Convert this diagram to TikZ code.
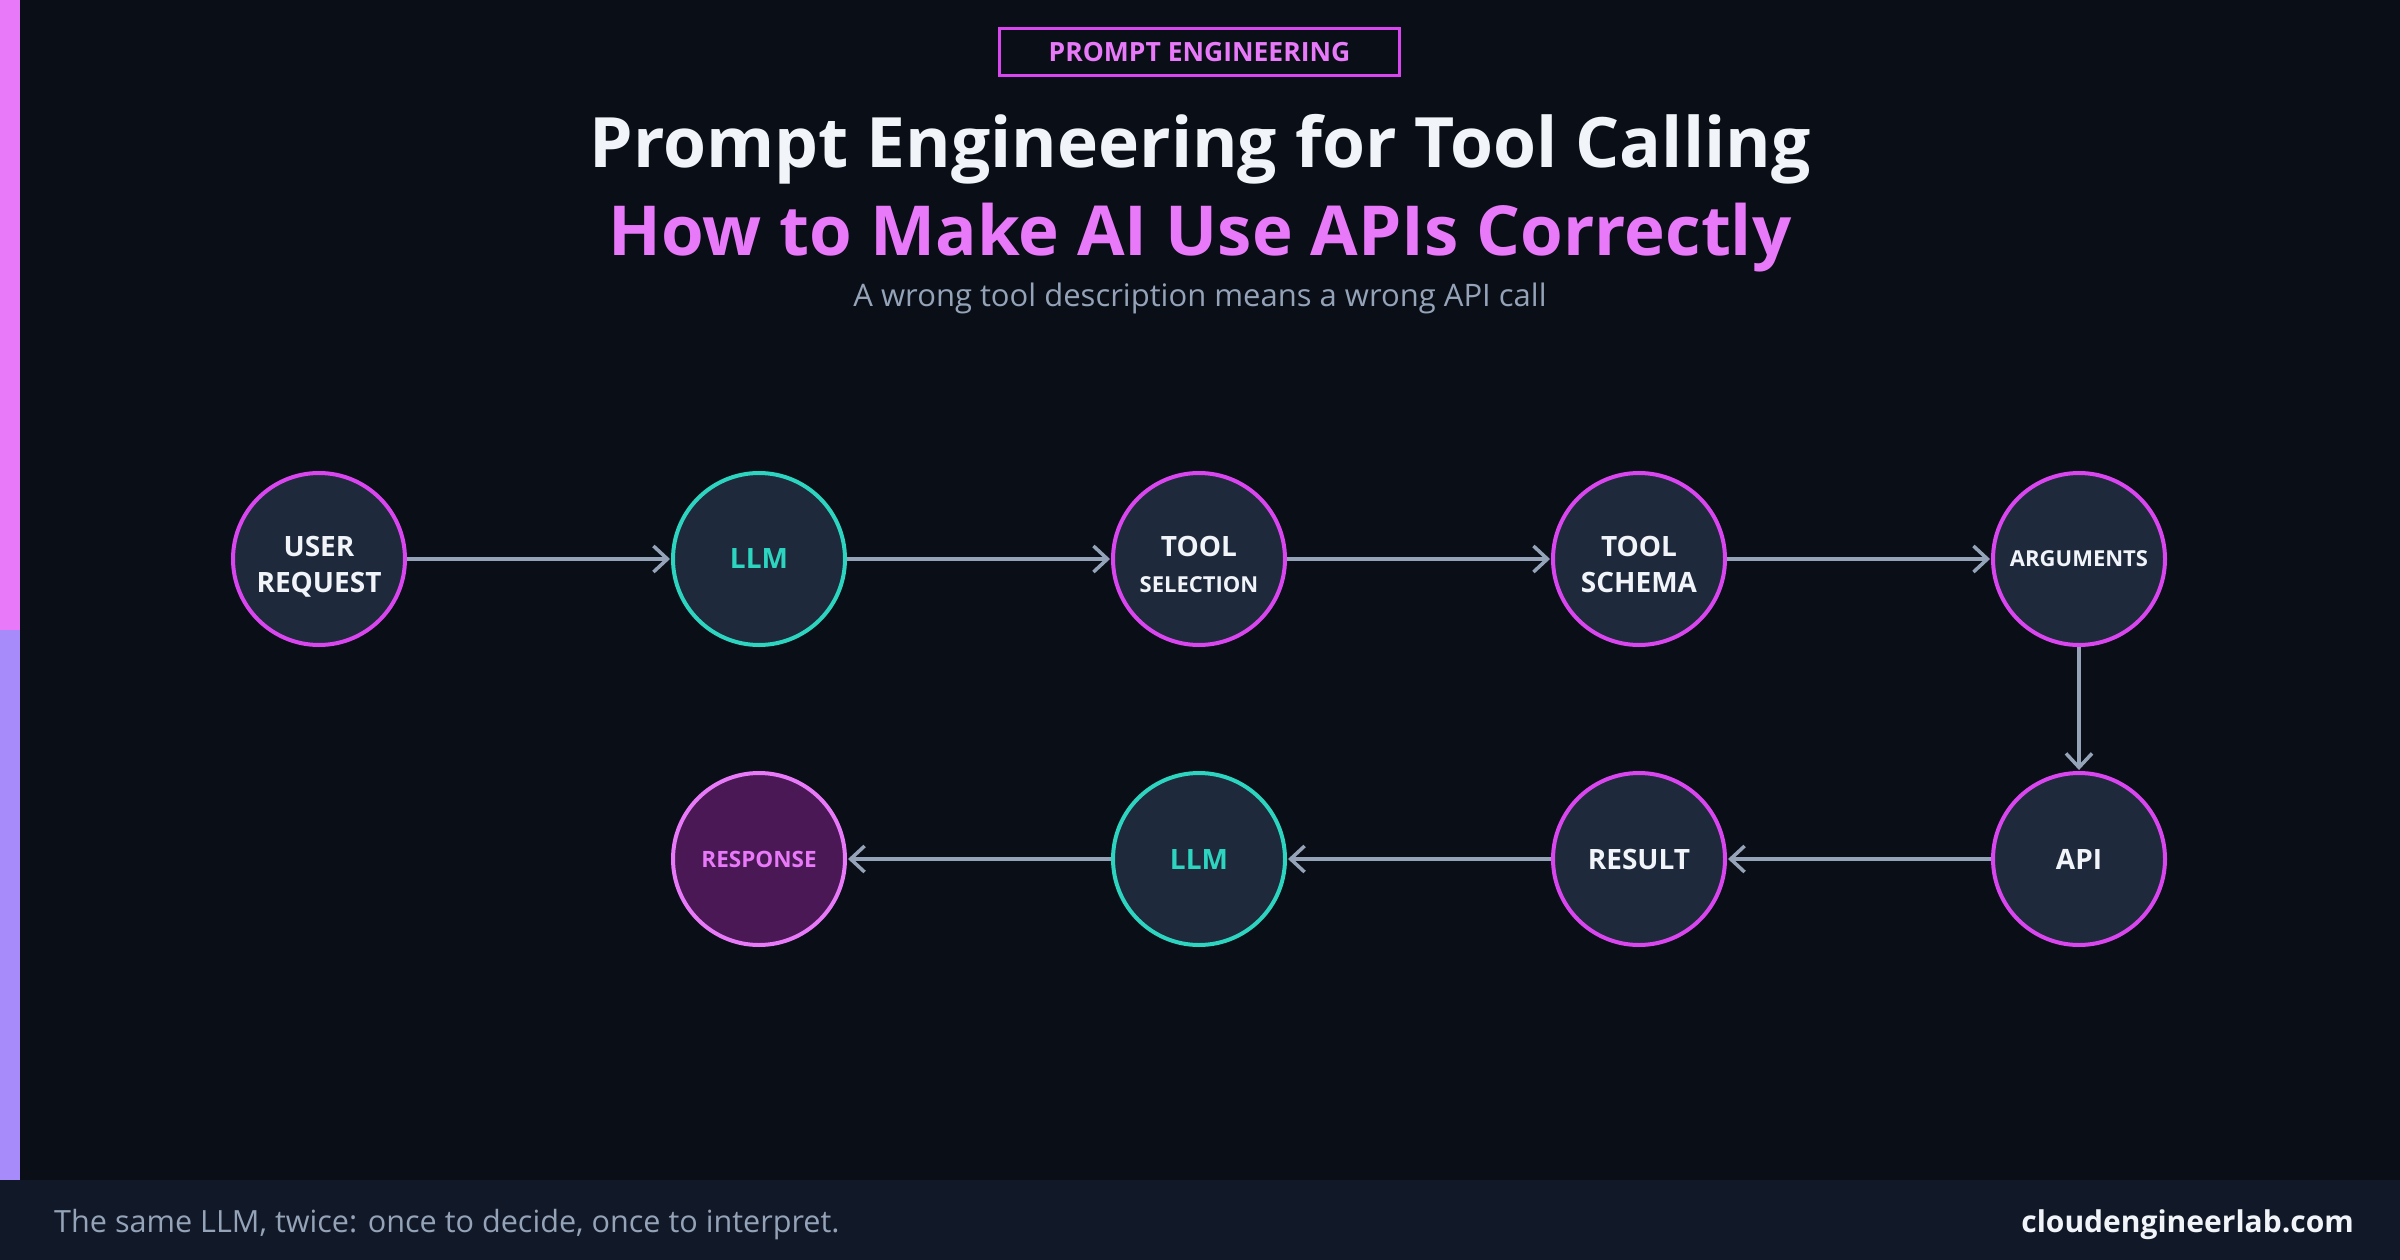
\documentclass[tikz,border=0pt]{standalone}
\usepackage{fontspec}
\setmainfont{Open Sans}
\usetikzlibrary{arrows.meta}
\definecolor{bg}{HTML}{0A0E17}
\definecolor{footbg}{HTML}{111827}
\definecolor{pinkA}{HTML}{E879F9}
\definecolor{magenta}{HTML}{D946EF}
\definecolor{violetA}{HTML}{A78BFA}
\definecolor{tealA}{HTML}{2DD4BF}
\definecolor{nodefill}{HTML}{1E293B}
\definecolor{respfill}{HTML}{4A1855}
\definecolor{slateA}{HTML}{94A3B8}
\definecolor{whiteA}{HTML}{F1F5F9}
\newcommand{\twolines}[2]{\raisebox{-8pt}[\height][\depth]{\begin{tabular}{@{}c@{}}#1\\#2\end{tabular}}}
\tikzset{
  stage/.style={circle, minimum size=172pt, inner sep=0pt, line width=4pt, draw=magenta, fill=nodefill, text=whiteA, align=center, font=\bfseries\fontsize{28}{36}\selectfont},
  llmnode/.style={stage, draw=tealA, text=tealA},
  respnode/.style={stage, draw=pinkA, fill=respfill, text=pinkA, font=\bfseries\fontsize{22.5}{28}\selectfont},
  small/.style={font=\bfseries\fontsize{22}{28}\selectfont},
  flow/.style={draw=slateA, line width=3.5pt, -{Straight Barb[length=14pt,width=26pt,line width=3.5pt]}, shorten >=1pt},
}
\begin{document}
\begin{tikzpicture}[x=1pt,y=-1pt]
\fill[bg] (0,0) rectangle (2400,1260);
\useasboundingbox (0,0) rectangle (2400,1260);
% left accent bar
\fill[pinkA] (0,0) rectangle (20,630);
\fill[violetA] (0,630) rectangle (20,1180);
% footer
\fill[footbg] (0,1180) rectangle (2400,1260);
% badge
\node[draw=magenta, line width=3pt, minimum width=400pt, minimum height=47pt, inner sep=0pt, text=pinkA, font=\bfseries\fontsize{26.5}{30}\selectfont] (badge) at (1199.5,52) {PROMPT ENGINEERING};
% titles
\node[anchor=base, text=whiteA, font=\bfseries\fontsize{69.5}{74}\selectfont] (title) at (1200,168) {Prompt Engineering for Tool Calling};
\node[anchor=base, text=pinkA, font=\bfseries\fontsize{69}{74}\selectfont] (subtitle) at (1200,255) {How to Make AI Use APIs Correctly};
\node[anchor=base, text=slateA, font=\fontsize{31}{36}\selectfont] (tagline) at (1200,306) {A wrong tool description means a wrong API call};
% nodes
\node[stage] (user) at (319,559) {\twolines{USER}{REQUEST}};
\node[llmnode] (llm1) at (759,559) {LLM};
\node[stage] (toolsel) at (1199,559) {\twolines{TOOL}{\fontsize{22}{28}\selectfont SELECTION}};
\node[stage] (schema) at (1639,559) {\twolines{TOOL}{SCHEMA}};
\node[stage, small] (args) at (2079,559) {ARGUMENTS};
\node[stage] (api) at (2079,859) {API};
\node[stage] (result) at (1639,859) {RESULT};
\node[llmnode] (llm2) at (1199,859) {LLM};
\node[respnode] (resp) at (759,859) {RESPONSE};
% connectors
\draw[flow] (user) -- (llm1);
\draw[flow] (llm1) -- (toolsel);
\draw[flow] (toolsel) -- (schema);
\draw[flow] (schema) -- (args);
\draw[flow] (args) -- (api);
\draw[flow] (api) -- (result);
\draw[flow] (result) -- (llm2);
\draw[flow] (llm2) -- (resp);
% footer texts
\node[anchor=base west, text=slateA, font=\fontsize{30.6}{34}\selectfont, inner sep=0pt] (foot) at (54,1232) {The same LLM, twice: once to decide, once to interpret.};
\node[anchor=base east, text=whiteA, font=\bfseries\fontsize{30}{34}\selectfont, inner sep=0pt] (site) at (2354,1232) {cloudengineerlab.com};
\end{tikzpicture}
\end{document}
